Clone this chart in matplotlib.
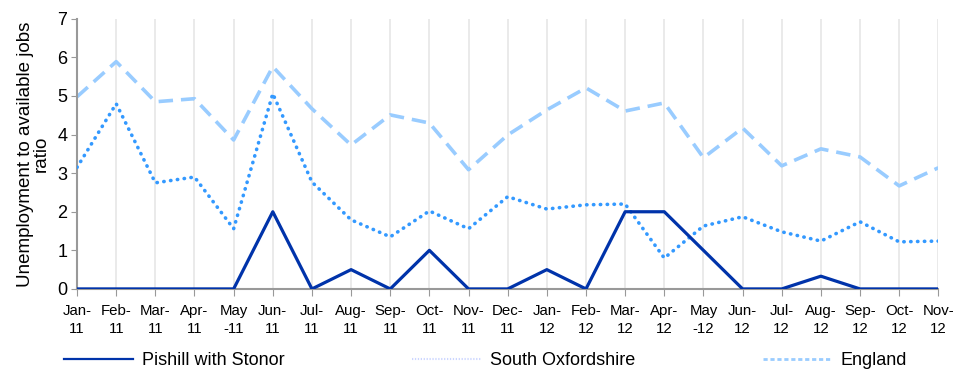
import matplotlib.pyplot as plt
from matplotlib.lines import Line2D

plt.rcParams['font.family'] = ['Liberation Sans', 'DejaVu Sans']

months = ['Jan-\n11', 'Feb-\n11', 'Mar-\n11', 'Apr-\n11', 'May\n-11', 'Jun-\n11',
          'Jul-\n11', 'Aug-\n11', 'Sep-\n11', 'Oct-\n11', 'Nov-\n11', 'Dec-\n11',
          'Jan-\n12', 'Feb-\n12', 'Mar-\n12', 'Apr-\n12', 'May\n-12', 'Jun-\n12',
          'Jul-\n12', 'Aug-\n12', 'Sep-\n12', 'Oct-\n12', 'Nov-\n12']

pishill = [0, 0, 0, 0, 0, 2, 0, 0.5, 0, 1, 0, 0,
           0.5, 0, 2, 2, 1, 0, 0, 0.33, 0, 0, 0]
south_oxon = [3.15, 4.8, 2.75, 2.9, 1.56, 5.06, 2.77, 1.79, 1.35, 2.02, 1.56, 2.39,
              2.07, 2.18, 2.2, 0.8, 1.63, 1.87, 1.48, 1.24, 1.74, 1.22, 1.24]
england = [4.98, 5.89, 4.85, 4.93, 3.86, 5.76, 4.67, 3.73, 4.51, 4.3, 3.09, 3.99,
           4.64, 5.21, 4.61, 4.82, 3.4, 4.17, 3.19, 3.63, 3.42, 2.67, 3.14]

dark = '#0033aa'
mid = '#3399ff'
light = '#99ccff'

fig = plt.figure(figsize=(9.57, 3.69), dpi=100)
ax = fig.add_axes([0.0805, 0.217, 0.9, 0.732])

x = range(len(months))
ax.plot(x, england, color=light, lw=2.6, ls=(0, (4, 2.2)), zorder=2)
ax.plot(x, south_oxon, color=mid, lw=2.6, ls=(0, (0.1, 1.8)), dash_capstyle='round', zorder=3)
ax.plot(x, pishill, color=dark, lw=2.3, zorder=4)

ax.set_xlim(0, len(months) - 1)
ax.set_ylim(0, 7)
ax.set_xticks(list(x))
ax.set_xticklabels(months, fontsize=10.8, linespacing=1.3)
ax.set_yticks(range(8))
ax.tick_params(axis='y', labelsize=13, length=4, color='#999999', pad=3)
ax.tick_params(axis='x', length=5, color='#999999', pad=6)
ax.grid(axis='x', color='#e6e6e6', lw=1.2)
ax.set_axisbelow(True)

for side in ['top', 'right']:
    ax.spines[side].set_visible(False)
for side in ['left', 'bottom']:
    ax.spines[side].set_color('#999999')
    ax.spines[side].set_linewidth(1.5)

ax.set_ylabel('Unemployment to available jobs\nratio', fontsize=13.5, linespacing=0.95, labelpad=5)

handles = [
    Line2D([], [], color=dark, lw=1.6),
    Line2D([], [], color='#ccd6ff', lw=1.5, ls=(0, (0.6, 0.8))),
    Line2D([], [], color=light, lw=2, ls=(0, (1.5, 1))),
]
labels = ['Pishill with Stonor', 'South Oxfordshire', 'England']
fig.legend(handles, labels, loc='lower left', ncol=3, mode='expand',
           bbox_to_anchor=(0.05, -0.045, 0.915, 0.08), frameon=False,
           fontsize=13, handlelength=3.8, handletextpad=0.5)

fig.savefig('out.png', dpi=100)
